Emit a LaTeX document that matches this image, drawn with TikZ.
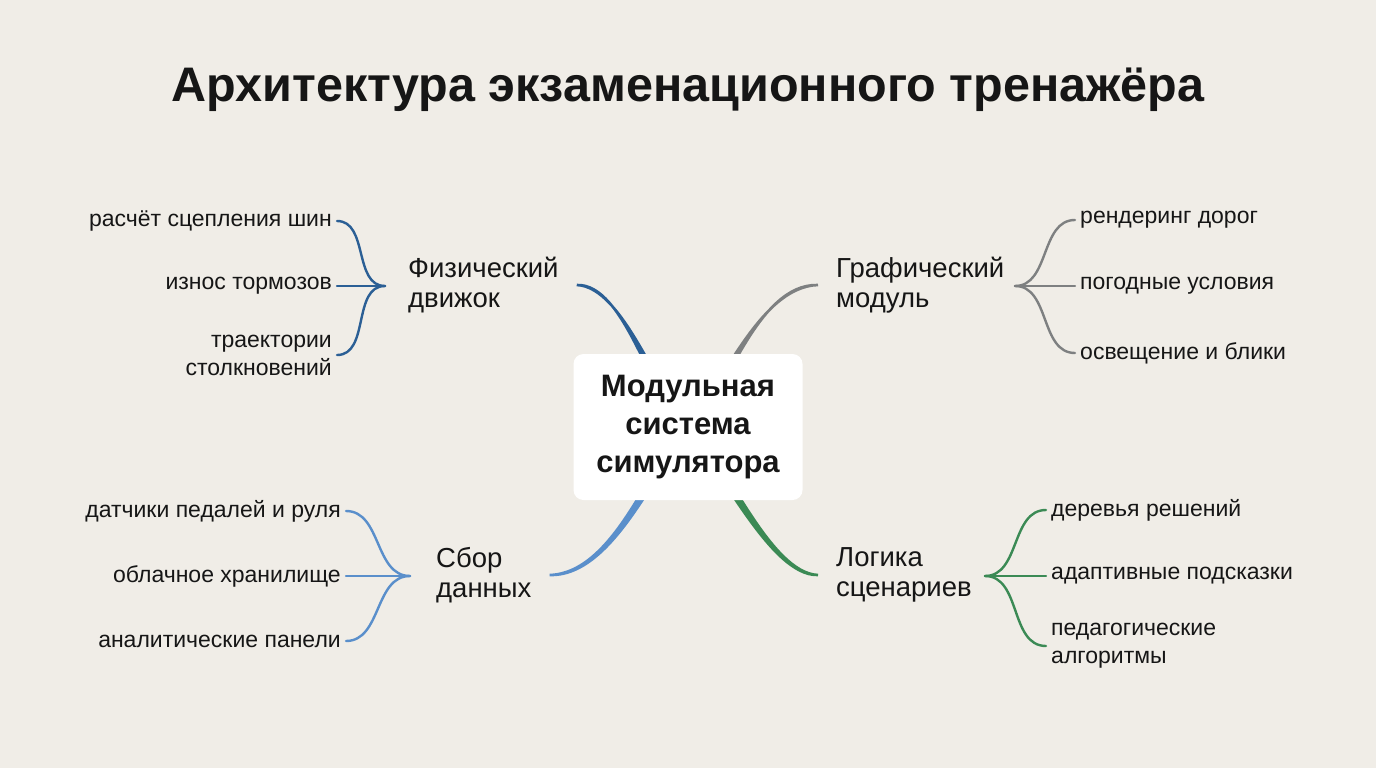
\documentclass[tikz,border=0pt]{standalone}
\usepackage{fontspec}
\setmainfont{Liberation Sans}
\usetikzlibrary{positioning}
\definecolor{bgpaper}{HTML}{F0EDE7}
\definecolor{inkdark}{HTML}{161616}
\definecolor{physblue}{HTML}{2B5F95}
\definecolor{gfxgray}{HTML}{7E8081}
\definecolor{datablue}{HTML}{5A8FCB}
\definecolor{logicgreen}{HTML}{3B8A55}
\pgfdeclarelayer{bg}
\pgfsetlayers{bg,main}

\begin{document}
\begin{tikzpicture}[x=1pt,y=-1pt,
  leaf/.style={text=inkdark,font=\fontsize{23}{28}\selectfont,inner sep=5pt},
  branch/.style={text=inkdark,font=\fontsize{27.5}{30}\selectfont,align=left,inner xsep=18pt,inner ysep=6pt},
  hub/.style={fill=white,rounded corners=10pt,minimum width=229pt,minimum height=146pt,
    align=center,text=inkdark,font=\bfseries\fontsize{31}{38}\selectfont},
  trunk/.style={line width=2.6pt,line join=round},
  twig/.style={line width=2.4pt,line cap=round}]
\begin{pgfonlayer}{bg}
\fill[bgpaper] (0,0) rectangle (1376,768);
\end{pgfonlayer}
\node[text=inkdark,font=\bfseries\fontsize{48.5}{54}\selectfont] (title) at (688,90) {Архитектура экзаменационного тренажёра};
\node[hub] (hub) at (688,427) {Модульная\\система\\симулятора};
% branches
\node[branch,anchor=west] (phys) at (390,285) {Физический\\движок};
\node[branch,anchor=west] (gfx) at (818,285) {Графический\\модуль};
\node[branch,anchor=west] (data) at (418,575) {Сбор\\данных};
\node[branch,anchor=west] (logic) at (818,575) {Логика\\сценариев};
% leaves
\node[leaf,anchor=east] (tyre) at (337,221) {расчёт сцепления шин};
\node[leaf,anchor=east] (brake) at (337,286) {износ тормозов};
\node[leaf,anchor=east,align=right] (crash) at (337,355) {траектории\\столкновений};
\node[leaf,anchor=west] (road) at (1075,220) {рендеринг дорог};
\node[leaf,anchor=west] (weather) at (1075,286) {погодные условия};
\node[leaf,anchor=west] (light) at (1075,353) {освещение и блики};
\node[leaf,anchor=east] (pedal) at (346,511) {датчики педалей и руля};
\node[leaf,anchor=east] (cloud) at (346,576) {облачное хранилище};
\node[leaf,anchor=east] (panel) at (346,641) {аналитические панели};
\node[leaf,anchor=west] (tree) at (1046,510) {деревья решений};
\node[leaf,anchor=west] (hint) at (1046,576) {адаптивные подсказки};
\node[leaf,anchor=west,align=left] (algo) at (1046,646) {педагогические\\алгоритмы};
\coordinate (physj) at (385,286);
\coordinate (gfxj) at (1015,286);
\coordinate (dataj) at (410,576);
\coordinate (logicj) at (985,576);
% tapered trunks, behind the hub
\begin{pgfonlayer}{bg}
\filldraw[trunk,physblue] (phys.east) .. controls (625,283) and (651,400) .. ([xshift=-4pt]hub.center)
  -- ([xshift=4pt]hub.center) .. controls (659,400) and (625,287) .. (phys.east);
\filldraw[trunk,gfxgray] (gfx.west) .. controls (756,283) and (725,400) .. ([xshift=4pt]hub.center)
  -- ([xshift=-4pt]hub.center) .. controls (717,400) and (756,287) .. (gfx.west);
\filldraw[trunk,datablue] (data.east) .. controls (615,577) and (659,460) .. ([xshift=4pt]hub.center)
  -- ([xshift=-4pt]hub.center) .. controls (651,460) and (615,573) .. (data.east);
\filldraw[trunk,logicgreen] (logic.west) .. controls (770,577) and (717,460) .. ([xshift=-4pt]hub.center)
  -- ([xshift=4pt]hub.center) .. controls (725,460) and (770,573) .. (logic.west);
\end{pgfonlayer}
\draw[twig,physblue] (tyre.east) to[out=0,in=180] (physj);
\draw[twig,physblue] (brake.east) -- (physj);
\draw[twig,physblue] (crash.east) to[out=0,in=180] (physj);
\draw[twig,gfxgray] (road.west) to[out=180,in=0] (gfxj);
\draw[twig,gfxgray] (weather.west) -- (gfxj);
\draw[twig,gfxgray] (light.west) to[out=180,in=0] (gfxj);
\draw[twig,datablue] (pedal.east) to[out=0,in=180] (dataj);
\draw[twig,datablue] (cloud.east) -- (dataj);
\draw[twig,datablue] (panel.east) to[out=0,in=180] (dataj);
\draw[twig,logicgreen] (tree.west) to[out=180,in=0] (logicj);
\draw[twig,logicgreen] (hint.west) -- (logicj);
\draw[twig,logicgreen] (algo.west) to[out=180,in=0] (logicj);
\end{tikzpicture}
\end{document}
